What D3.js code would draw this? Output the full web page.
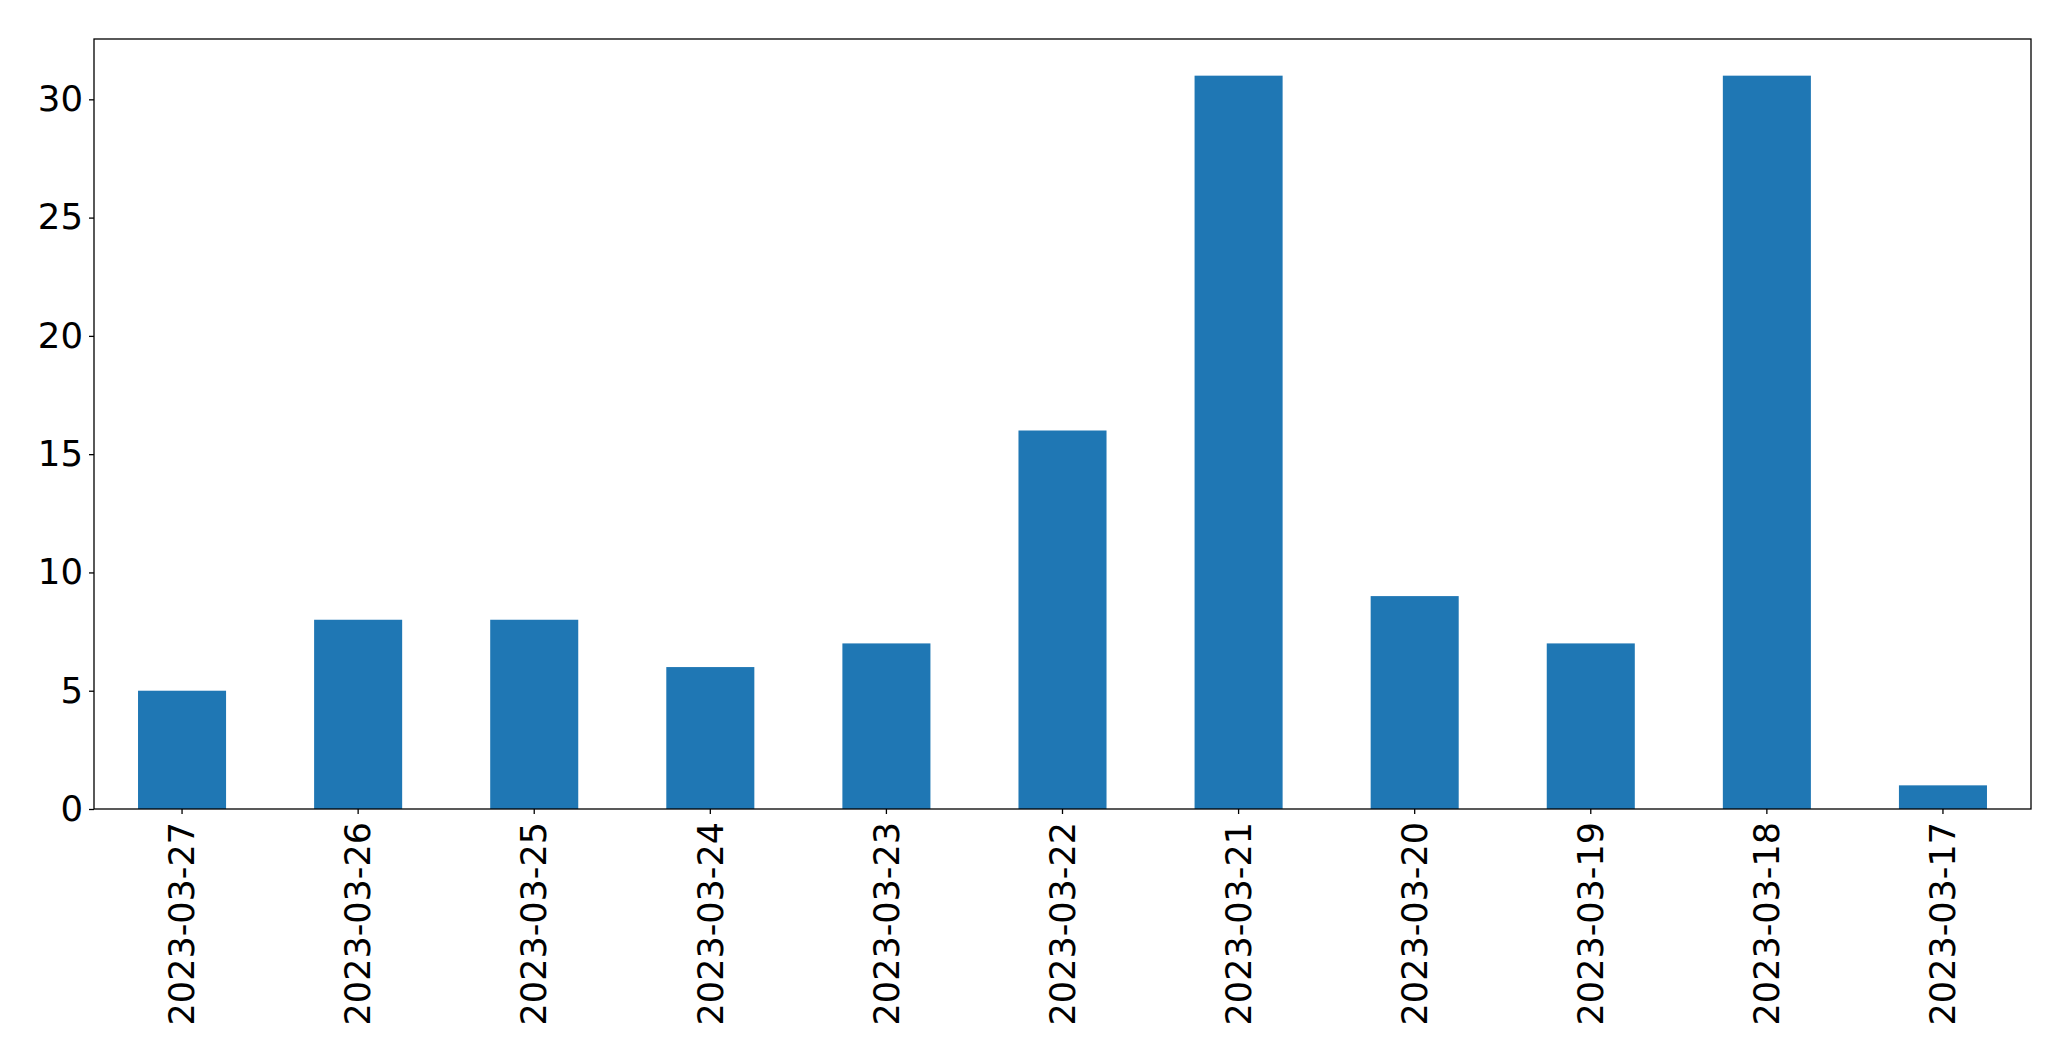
<!DOCTYPE html>
<html>
<head>
<meta charset="utf-8">
<script src="https://cdn.jsdelivr.net/npm/d3@7"></script>
<style>
  body { margin: 0; background: #fff; }
  svg text { font-family: "DejaVu Sans", sans-serif; fill: #000; }
</style>
</head>
<body>
<svg id="chart" width="2071" height="1061"></svg>
<script>
/* data, in the order drawn */
var dates = ["2023-03-27", "2023-03-26", "2023-03-25", "2023-03-24", "2023-03-23",
             "2023-03-22", "2023-03-21", "2023-03-20", "2023-03-19", "2023-03-18", "2023-03-17"];
var counts = [5, 8, 8, 6, 7, 16, 31, 9, 7, 31, 1];
var yTicks = [0, 5, 10, 15, 20, 25, 30];

var margin = {left: 94, right: 40, top: 39, bottom: 252};
var W = 2071, H = 1061;
var fontSize = 35;

var svg = d3.select("#chart");
var g = svg.append("g").attr("transform", "translate(" + margin.left + "," + margin.top + ")");
var w = W - margin.left - margin.right,
    h = H - margin.top - margin.bottom;

// matplotlib style: bar width 0.5, half step of margin on each side
var x = d3.scaleBand().domain(dates).range([0, w]).paddingInner(0.5).paddingOuter(0.25);
var y = d3.scaleLinear().domain([0, d3.max(counts) * 1.05]).range([h, 0]);

g.selectAll(".bar")
    .data(counts)
    .enter().append("rect")
    .attr("class", "bar")
    .attr("x", function (d, i) { return x(dates[i]); })
    .attr("y", function (d) { return y(d); })
    .attr("width", x.bandwidth())
    .attr("height", function (d) { return h - y(d); })
    .attr("fill", "#1f77b4");

/* y axis */
var yAxis = g.append("g")
    .call(d3.axisLeft(y).tickValues(yTicks).tickSize(5).tickPadding(6).tickFormat(d3.format("d")));
yAxis.select(".domain").remove();
yAxis.selectAll("line").attr("stroke", "#000").attr("stroke-width", 1.3);
yAxis.selectAll("text").style("font-size", "35.5px");

/* x axis, labels turned upright */
var xAxis = g.append("g")
    .attr("transform", "translate(0," + h + ")")
    .call(d3.axisBottom(x).tickSize(5).tickPadding(8));
xAxis.select(".domain").remove();
xAxis.selectAll("line").attr("stroke", "#000").attr("stroke-width", 1.3);
xAxis.selectAll("text")
    .style("font-size", fontSize + "px")
    .attr("text-anchor", "end")
    .attr("dy", "0.35em")
    .attr("y", 0)
    .attr("transform", "translate(0,13) rotate(-90)");

/* frame */
g.append("rect")
    .attr("width", w).attr("height", h)
    .attr("fill", "none").attr("stroke", "#000").attr("stroke-width", 1.3);
</script>
</body>
</html>
